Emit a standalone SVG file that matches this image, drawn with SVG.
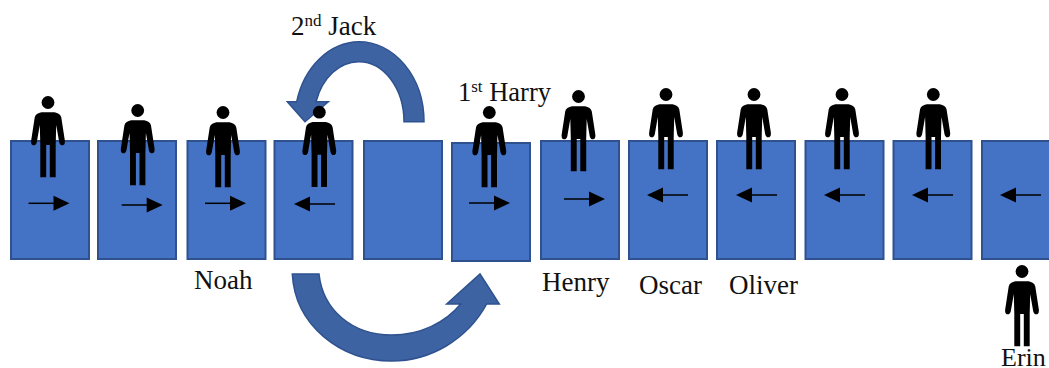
<svg xmlns="http://www.w3.org/2000/svg" width="1049" height="368" viewBox="0 0 1049 368">
<style>
.box{fill:#4472C4;stroke:#2F528F;stroke-width:2}
.bend{fill:#3E63A3;stroke:#2F528F;stroke-width:1.5}
.lbl{font-family:"Liberation Serif","Times New Roman",serif;font-size:27px;fill:#111}
.ln{stroke:#000;stroke-width:1.5;fill:none}
</style>
<defs>
<g id="person">
<circle cx="0" cy="6.5" r="6.4" fill="#000"/>
<path fill="#000" d="M-6.5,16.2 H6.5 C10,16.8 12.8,18.5 13.3,21.5 L16.8,44.2 C17.3,47.8 16,49.3 14.2,49.3 C12.7,49.3 11.7,48.2 11.2,46.2 L8.2,29 L7.7,49 V81.3 H1.8 V49 H-1.8 V81.3 H-7.7 V49 L-8.2,29 L-11.2,46.2 C-11.7,48.2 -12.7,49.3 -14.2,49.3 C-16,49.3 -17.3,47.8 -16.8,44.2 L-13.3,21.5 C-12.8,18.5 -10,16.8 -6.5,16.2 Z"/>
</g>
<g id="right"><path class="ln" d="M0,0 H27"/><path d="M25,-7.5 L41,0 L25,7.5 Z" fill="#000"/></g>
<g id="left"><path class="ln" d="M14,0 H41"/><path d="M16,-7.5 L0,0 L16,7.5 Z" fill="#000"/></g>
</defs>
<g id="connectors">
<path class="bend" d="M424,121.7 A65,80 0 0 0 359,41.7 A65,80 0 0 0 296.7,101.7 L287.3,101.7 L305,121.7 L328.3,101.7 L316,101.7 A45,60 0 0 1 359,61.7 A45,60 0 0 1 404,121.7 Z"/>
<path class="bend" d="M292.3,274 C295,325 340,361 391.7,361 C430,361 467,340 486.7,304 L499.3,304 L480,274 L446.7,304 L460.7,304 C445,323 420,335 391.7,335 C352,335 323,310 319,274 Z"/>
</g>
<g id="n1"><rect class="box" x="11" y="141" width="78" height="118"/><use href="#person" x="48" y="96"/><use href="#right" x="28.500" y="203.300"/></g>
<g id="n2"><rect class="box" x="98" y="141" width="78" height="118"/><use href="#person" x="137.700" y="104"/><use href="#right" x="121.700" y="205"/></g>
<g id="n3"><rect class="box" x="187.500" y="141" width="78" height="118"/><use href="#person" x="223" y="106"/><use href="#right" x="205" y="203.300"/><text class="lbl" x="194" y="289">Noah</text></g>
<g id="n4"><rect class="box" x="274.500" y="141" width="78" height="118"/><use href="#person" x="319.300" y="105.700"/><use href="#left" x="294" y="204"/></g>
<g id="n5"><rect class="box" x="364" y="141" width="78" height="118"/></g>
<g id="n6"><rect class="box" x="452" y="143" width="78" height="118"/><use href="#person" x="489.300" y="106"/><use href="#right" x="469" y="203"/></g>
<g id="n7"><rect class="box" x="541" y="141" width="78" height="118"/><use href="#person" x="578.500" y="90"/><use href="#right" x="564" y="199"/><text class="lbl" x="542" y="291">Henry</text></g>
<g id="n8"><rect class="box" x="629" y="141" width="78" height="118"/><use href="#person" x="666" y="88"/><use href="#left" x="647" y="195"/><text class="lbl" x="639" y="294">Oscar</text></g>
<g id="n9"><rect class="box" x="717" y="141" width="78" height="118"/><use href="#person" x="754" y="88"/><use href="#left" x="736" y="195"/><text class="lbl" x="729" y="294">Oliver</text></g>
<g id="n10"><rect class="box" x="805.500" y="141" width="78" height="118"/><use href="#person" x="842" y="88"/><use href="#left" x="824" y="195"/></g>
<g id="n11"><rect class="box" x="893.500" y="141" width="78" height="118"/><use href="#person" x="933.300" y="88"/><use href="#left" x="912" y="195"/></g>
<g id="n12"><rect class="box" x="982" y="141" width="78" height="118"/><use href="#left" x="1000" y="195"/><use href="#person" x="1022" y="265"/><text class="lbl" x="1001" y="366" font-size="26" style="font-size:26px">Erin</text></g>
<g id="t-jack"><text class="lbl" x="291" y="35">2<tspan font-size="17" style="font-size:17px" dy="-9">nd</tspan><tspan dy="9"> Jack</tspan></text></g>
<g id="t-harry"><text class="lbl" x="458" y="101" style="font-size:26.5px">1<tspan style="font-size:17px" dy="-9">st</tspan><tspan dy="9"> Harry</tspan></text></g>
</svg>
